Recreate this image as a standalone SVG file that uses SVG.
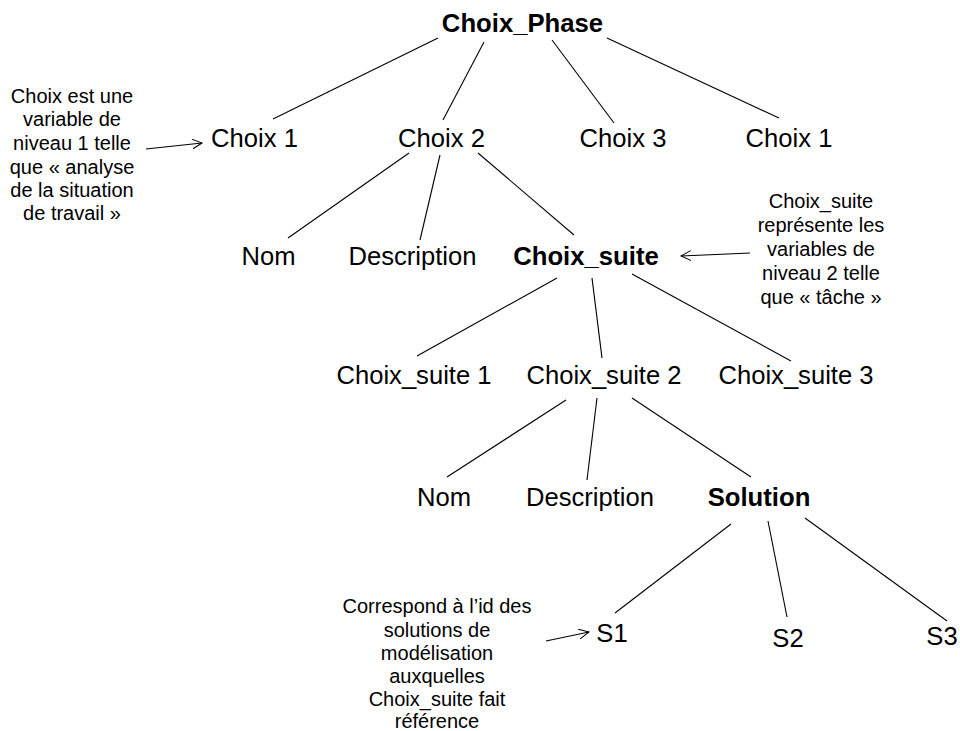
<svg xmlns="http://www.w3.org/2000/svg" width="960" height="731" viewBox="0 0 960 731">
<defs>
<marker id="arr" markerWidth="12" markerHeight="12" refX="10" refY="5" orient="auto" markerUnits="userSpaceOnUse">
<path d="M0,0 L10,5 L0,10" fill="none" stroke="#000" stroke-width="1"/>
</marker>
</defs>
<style>
text{font-family:"Liberation Sans",Arial,sans-serif;fill:#000;text-anchor:middle}
.n{font-size:25.6px}
.b{font-size:25.7px;font-weight:bold}
.a{font-size:20px}
line{stroke:#000;stroke-width:1.1}
.ar{marker-end:url(#arr)}
</style>
<rect width="960" height="731" fill="#fff"/>
<g id="connectors">
<line x1="438" y1="38" x2="273" y2="119"/>
<line x1="484" y1="42" x2="443" y2="120"/>
<line x1="552" y1="40" x2="614" y2="123"/>
<line x1="607" y1="38" x2="779" y2="118"/>
<line x1="409" y1="153" x2="288" y2="238"/>
<line x1="440" y1="155" x2="420" y2="240"/>
<line x1="478" y1="153" x2="574" y2="235"/>
<line x1="557" y1="278" x2="417" y2="356"/>
<line x1="592" y1="278" x2="602" y2="358"/>
<line x1="632" y1="274" x2="791" y2="361"/>
<line x1="566" y1="400" x2="447" y2="477"/>
<line x1="597" y1="398" x2="587" y2="480"/>
<line x1="632" y1="398" x2="751" y2="477"/>
<line x1="731" y1="524" x2="615" y2="613"/>
<line x1="768" y1="521" x2="787" y2="617"/>
<line x1="805" y1="518" x2="947" y2="621"/>
<line class="ar" x1="146" y1="149" x2="202" y2="143"/>
<line class="ar" x1="750" y1="253" x2="681" y2="256"/>
<line class="ar" x1="546" y1="641" x2="589" y2="632"/>
</g>
<g id="choix_phase"><text class="b" x="522.5" y="32">Choix_Phase</text></g>
<g id="choix1"><text class="n" x="254.5" y="147">Choix 1</text></g>
<g id="choix2"><text class="n" x="441.5" y="147">Choix 2</text></g>
<g id="choix3"><text class="n" x="623" y="147">Choix 3</text></g>
<g id="choix1b"><text class="n" x="789" y="147">Choix 1</text></g>
<g id="nom1"><text class="n" x="268.5" y="265">Nom</text></g>
<g id="desc1"><text class="n" x="412.5" y="265">Description</text></g>
<g id="choix_suite"><text class="b" x="586" y="265">Choix_suite</text></g>
<g id="cs1"><text class="n" x="414" y="384">Choix_suite 1</text></g>
<g id="cs2"><text class="n" x="604" y="384">Choix_suite 2</text></g>
<g id="cs3"><text class="n" x="796" y="384">Choix_suite 3</text></g>
<g id="nom2"><text class="n" x="444" y="506">Nom</text></g>
<g id="desc2"><text class="n" x="590" y="506">Description</text></g>
<g id="solution"><text class="b" x="759" y="506">Solution</text></g>
<g id="s1"><text class="n" x="612" y="642">S1</text></g>
<g id="s2"><text class="n" x="788" y="647">S2</text></g>
<g id="s3"><text class="n" x="942" y="645">S3</text></g>
<g id="note1">
<text class="a" x="72" y="103">Choix est une</text>
<text class="a" x="72" y="126">variable de</text>
<text class="a" x="72" y="150">niveau 1 telle</text>
<text class="a" x="72" y="174">que « analyse</text>
<text class="a" x="72" y="197">de la situation</text>
<text class="a" x="72" y="220">de travail »</text>
</g>
<g id="note2">
<text class="a" x="821" y="208">Choix_suite</text>
<text class="a" x="821" y="232">représente les</text>
<text class="a" x="821" y="256">variables de</text>
<text class="a" x="821" y="280">niveau 2 telle</text>
<text class="a" x="821" y="304">que « tâche »</text>
</g>
<g id="note3">
<text class="a" x="437" y="613">Correspond à l’id des</text>
<text class="a" x="437" y="637">solutions de</text>
<text class="a" x="437" y="660">modélisation</text>
<text class="a" x="437" y="683">auxquelles</text>
<text class="a" x="437" y="706">Choix_suite fait</text>
<text class="a" x="437" y="728">référence</text>
</g>
</svg>
